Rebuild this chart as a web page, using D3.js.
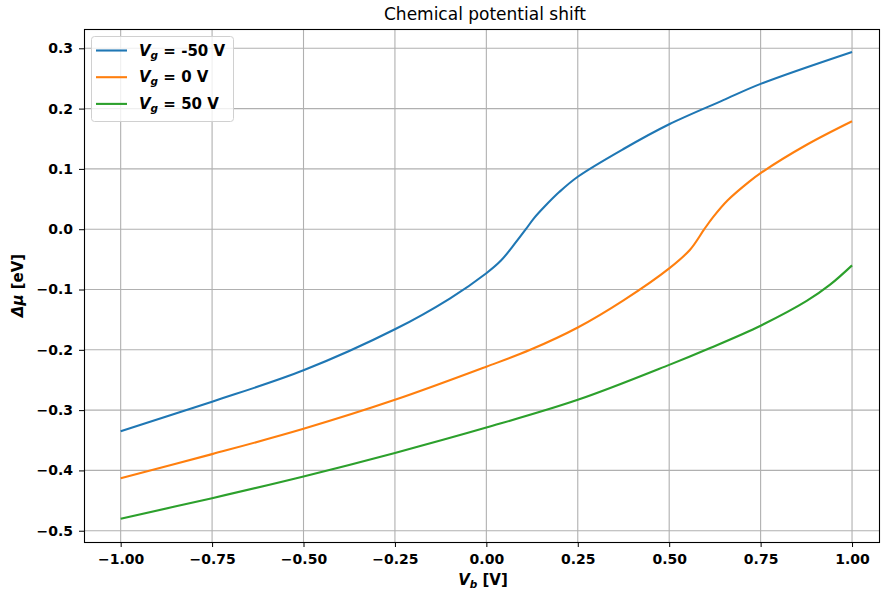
<!DOCTYPE html>
<meta charset="utf-8">
<title>Chemical potential shift</title>
<style>
body {
  margin: 0px;
  background: #fff;
}
text {
  font-family: "DejaVu Sans", sans-serif;
}
.tick text {
  font-weight: bold;
  font-size: 14px;
  fill: #000;
}
</style>
<script src="https://d3js.org/d3.v7.min.js"></script>
<body>
<script>
var width = 881, height = 594;

// series labels and colours
var vgLabels = ["-50 V", "0 V", "50 V"];
var colors = ["#1f77b4", "#ff7f0e", "#2ca02c"];

// V_b samples and Δμ values
var vbNeg50 = [-1, -0.75, -0.5, -0.25, -0.1, 0, 0.04, 0.07, 0.108, 0.13, 0.16, 0.2, 0.25, 0.375, 0.5, 0.648, 0.75, 1];
var muNeg50 = [-0.335, -0.286, -0.234, -0.166, -0.115, -0.073, -0.052, -0.030, 0, 0.018, 0.038, 0.062, 0.087, 0.133, 0.174, 0.214, 0.241, 0.294];

var vbZero = [-1, -0.75, -0.5, -0.25, 0, 0.12, 0.25, 0.375, 0.5, 0.557, 0.596, 0.62, 0.66, 0.719, 0.75, 0.876, 1];
var muZero = [-0.413, -0.373, -0.331, -0.283, -0.228, -0.200, -0.163, -0.118, -0.065, -0.034, 0, 0.020, 0.048, 0.079, 0.093, 0.140, 0.179];

var vbPos50 = [-1, -0.75, -0.5, -0.25, 0, 0.25, 0.5, 0.612, 0.75, 0.876, 0.94, 1];
var muPos50 = [-0.480, -0.446, -0.410, -0.371, -0.329, -0.283, -0.225, -0.197, -0.160, -0.119, -0.092, -0.060];

var xTicks = [-1, -0.75, -0.5, -0.25, 0, 0.25, 0.5, 0.75, 1];
var yTicks = [-0.5, -0.4, -0.3, -0.2, -0.1, 0, 0.1, 0.2, 0.3];

var series = [
  {label: vgLabels[0], vb: vbNeg50, mu: muNeg50, color: colors[0]},
  {label: vgLabels[1], vb: vbZero, mu: muZero, color: colors[1]},
  {label: vgLabels[2], vb: vbPos50, mu: muPos50, color: colors[2]}
];

// plot box (note: "top" is taken by window.top)
var pLeft = 84, pRight = 880, pTop = 29, pBottom = 542;

var x = d3.scaleLinear().domain([-1.1, 1.1]).range([84.1, 888.6]);
var y = d3.scaleLinear().domain([-0.5187, 0.332]).range([pBottom, pTop]);

var svg = d3.select("body").append("svg")
    .attr("width", width)
    .attr("height", height);

// grid
var grid = svg.append("g");
grid.selectAll("line.gx")
    .data(xTicks)
  .enter().append("line")
    .attr("class", "gx")
    .attr("x1", function(d) { return x(d); })
    .attr("x2", function(d) { return x(d); })
    .attr("y1", pTop).attr("y2", pBottom)
    .style("stroke", "#b0b0b0").style("stroke-width", 1.1);
grid.selectAll("line.gy")
    .data(yTicks)
  .enter().append("line")
    .attr("class", "gy")
    .attr("y1", function(d) { return y(d); })
    .attr("y2", function(d) { return y(d); })
    .attr("x1", pLeft).attr("x2", pRight)
    .style("stroke", "#b0b0b0").style("stroke-width", 1.1);

// curves
var line = d3.line()
    .x(function(d) { return x(d[0]); })
    .y(function(d) { return y(d[1]); })
    .curve(d3.curveCatmullRom.alpha(0.5));

svg.append("g").selectAll("path")
    .data(series)
  .enter().append("path")
    .attr("d", function(s) { return line(d3.zip(s.vb, s.mu)); })
    .style("fill", "none")
    .style("stroke", function(s) { return s.color; })
    .style("stroke-width", 2.1);

// axes
var fmtX = function(d) { return d3.format(".2f")(d).replace("-", "\u2212"); };
var fmtY = function(d) { return d3.format(".1f")(d).replace("-", "\u2212"); };

var xAxis = svg.append("g")
    .attr("transform", "translate(0," + pBottom + ")")
    .call(d3.axisBottom(x).tickValues(xTicks).tickFormat(fmtX).tickSize(5).tickPadding(7));
var yAxis = svg.append("g")
    .attr("transform", "translate(" + pLeft + ",0)")
    .call(d3.axisLeft(y).tickValues(yTicks).tickFormat(fmtY).tickSize(5).tickPadding(6));
[xAxis, yAxis].forEach(function(a) {
  a.select(".domain").remove();
  a.selectAll(".tick line").style("stroke", "#000").style("stroke-width", 1);
});

// frame
svg.append("rect")
    .attr("x", pLeft + 0.5).attr("y", pTop + 0.5)
    .attr("width", pRight - pLeft - 1).attr("height", pBottom - pTop)
    .style("fill", "none").style("stroke", "#000").style("stroke-width", 1.1);

// title
svg.append("text")
    .attr("x", 485).attr("y", 20)
    .attr("text-anchor", "middle")
    .style("font-size", "17px")
    .text("Chemical potential shift");

// x label
var xl = svg.append("text")
    .attr("x", 483).attr("y", 585)
    .attr("text-anchor", "middle")
    .style("font-size", "15px").style("font-weight", "bold");
xl.append("tspan").style("font-style", "italic").text("V");
xl.append("tspan").style("font-style", "italic").style("font-size", "10.5px").attr("dy", 3).text("b");
xl.append("tspan").attr("dy", -3).text(" [V]");

// y label
svg.append("text")
    .attr("transform", "translate(23," + ((pTop + pBottom) / 2) + ") rotate(-90)")
    .attr("text-anchor", "middle")
    .style("font-size", "15px").style("font-weight", "bold")
    .call(function(t) {
      t.append("tspan").style("font-style", "italic").text("\u0394\u03bc");
      t.append("tspan").text(" [eV]");
    });

// legend
var lg = svg.append("g");
lg.append("rect")
    .attr("x", 91.5).attr("y", 36.5)
    .attr("width", 142).attr("height", 85)
    .attr("rx", 3)
    .style("fill", "#fff").style("fill-opacity", 0.8)
    .style("stroke", "#d0d0d0").style("stroke-width", 1);
var items = lg.selectAll("g.item")
    .data(series)
  .enter().append("g")
    .attr("class", "item")
    .attr("transform", function(d, i) { return "translate(0," + (50.5 + i * 26.7) + ")"; });
items.append("line")
    .attr("x1", 96).attr("x2", 127)
    .style("stroke", function(d) { return d.color; })
    .style("stroke-width", 2.1);
var lt = items.append("text")
    .attr("x", 139).attr("y", 5)
    .style("font-size", "15px").style("font-weight", "bold");
lt.append("tspan").style("font-style", "italic").text("V");
lt.append("tspan").style("font-style", "italic").style("font-size", "10.5px").attr("dy", 3).text("g");
lt.append("tspan").attr("dy", -3).text(function(d) { return " = " + d.label; });
</script>
</body>
